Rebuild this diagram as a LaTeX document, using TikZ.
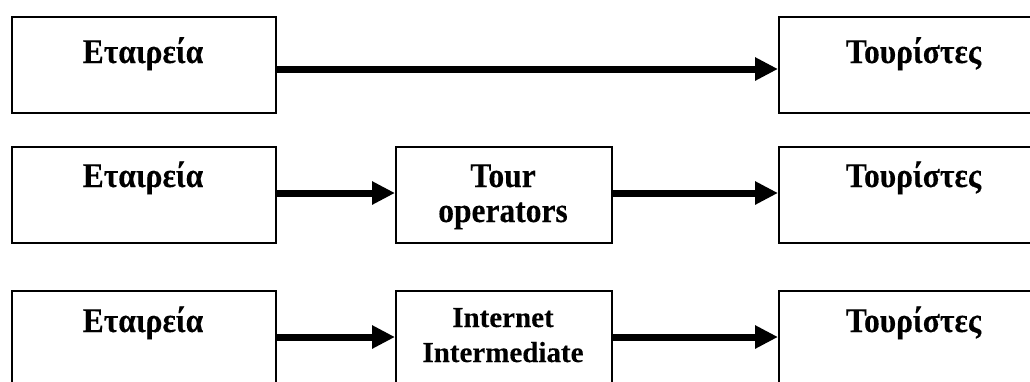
\documentclass[tikz,border=0pt]{standalone}
\usepackage{fontspec}
\setmainfont{Liberation Serif}[BoldFeatures={FakeBold=0.2}]
\usetikzlibrary{arrows.meta}
\newcommand{\tall}[1]{\scalebox{1}[1.1]{#1}}
\tikzset{
  box/.style={draw=black, line width=1.6pt, rectangle, minimum width=#1, minimum height=96pt, inner sep=0pt, anchor=north west},
  box/.default=264pt,
  lbl/.style={anchor=base, inner sep=0pt, font=\bfseries\fontsize{31.5}{35}\selectfont, align=center},
  lblsmall/.style={lbl, font=\bfseries\fontsize{29}{35}\selectfont},
  arr/.style={line width=7pt, -{Triangle[length=23pt,width=22pt]}, shorten <=0.8pt}
}
\begin{document}
\begin{tikzpicture}[x=1pt,y=-1pt]
\useasboundingbox (0,0) rectangle (1030,381);
\clip (0,0) rectangle (1030,381);
% row 1
\node[box] (L1) at (11,16) {};
\node[box=271pt] (R1) at (778,16) {};
\node[lbl] (tL1) at (143,63) {\tall{Εταιρεία}};
\node[lbl] (tR1) at (913.5,63) {\tall{Τουρίστες}};
\draw[arr] (L1.east |- 0,69) -- (R1.west |- 0,69);
% row 2
\node[box] (L2) at (11,146) {};
\node[box=216pt] (M2) at (395,146) {};
\node[box=271pt] (R2) at (778,146) {};
\node[lbl] (tL2) at (143,187) {\tall{Εταιρεία}};
\node[lbl] (tM2a) at (503,187) {\tall{Tour}};
\node[lbl] (tM2b) at (503,222) {\tall{operators}};
\node[lbl] (tR2) at (913.5,187) {\tall{Τουρίστες}};
\draw[arr] (L2.east |- 0,193) -- (M2.west |- 0,193);
\draw[arr] (M2.east |- 0,193) -- (R2.west |- 0,193);
% row 3
\node[box] (L3) at (11,290) {};
\node[box=216pt] (M3) at (395,290) {};
\node[box=271pt] (R3) at (778,290) {};
\node[lbl] (tL3) at (143,332) {\tall{Εταιρεία}};
\node[lblsmall] (tM3a) at (503,327) {Internet};
\node[lblsmall] (tM3b) at (503,362) {Intermediate};
\node[lbl] (tR3) at (913.5,332) {\tall{Τουρίστες}};
\draw[arr] (L3.east |- 0,337) -- (M3.west |- 0,337);
\draw[arr] (M3.east |- 0,337) -- (R3.west |- 0,337);
\end{tikzpicture}
\end{document}
